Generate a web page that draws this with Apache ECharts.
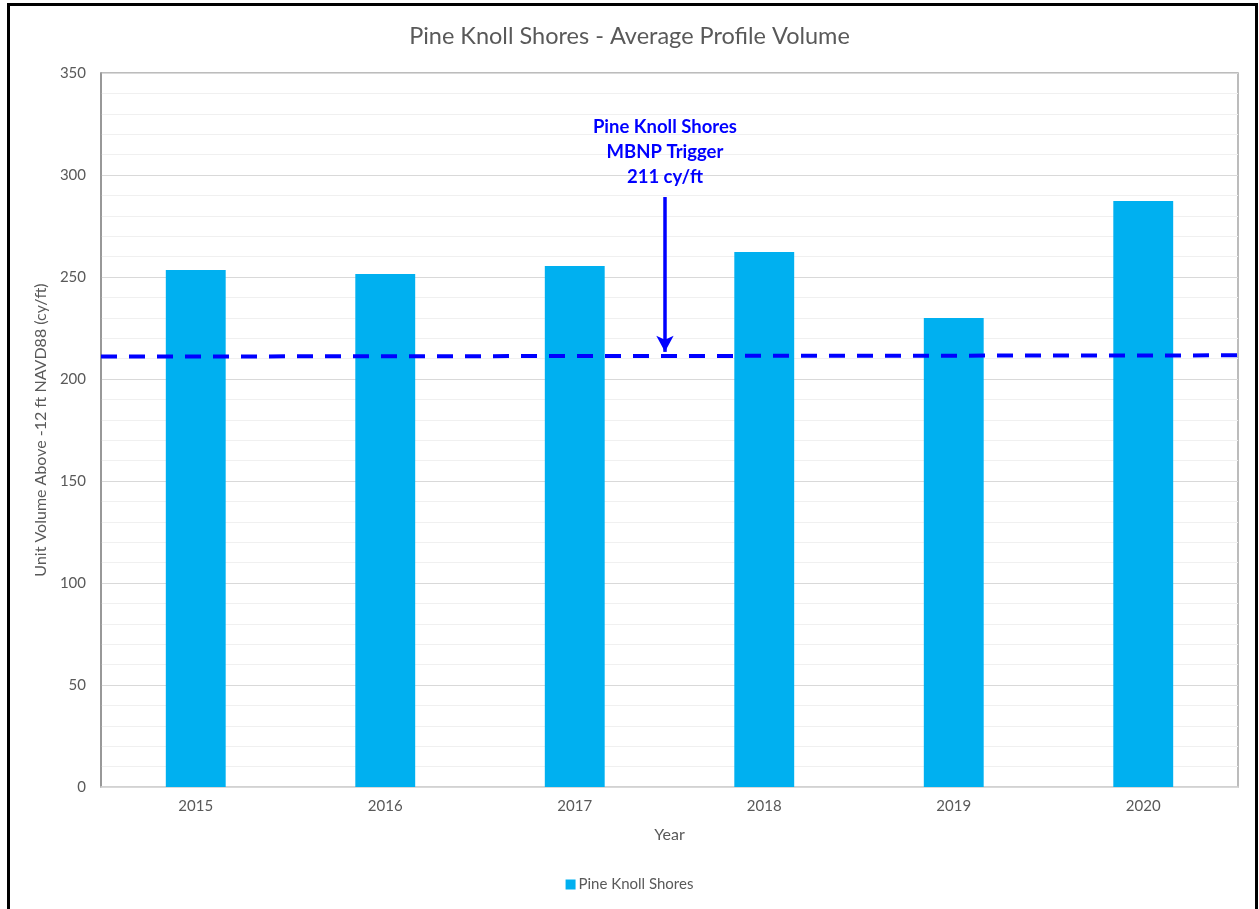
<!DOCTYPE html>
<html>
<head>
<meta charset="utf-8">
<script src="https://cdn.jsdelivr.net/npm/echarts@6/dist/echarts.min.js"></script>
<style>
  html, body { margin: 0; padding: 0; background: #fff; }
  #chart { width: 1259px; height: 909px; position: absolute; left: 0; top: 0; }
  #frame { position: absolute; left: 7px; top: 3px; width: 1245px; height: 1000px;
           border: 3px solid #000; border-bottom: none; pointer-events: none; }
</style>
</head>
<body>
<div id="chart"></div>
<div id="frame"></div>
<script>
// ---- data ----
const years = ['2015', '2016', '2017', '2018', '2019', '2020'];
const volumes = [253.4, 251.5, 255.4, 262.3, 229.9, 287.3];
const triggerLine = [[0, 211.0], [1, 211.6]];        // dashed trigger line (relative x 0..1)
const arrowStart = [0.496, 289.2];
const arrowEnd = [0.496, 213.3];
const annotationPos = [0.496, 311.5];
const annotationLines = ['Pine Knoll Shores', 'MBNP Trigger', '211 cy/ft'];
const yTicks = { min: 0, max: 350, interval: 50 };

const FONT = 'Lato, "Open Sans", sans-serif';
const TXT = '#595959';

const chart = echarts.init(document.getElementById('chart'), null, { renderer: 'canvas' });
chart.setOption({
  animation: false,
  backgroundColor: '#fff',
  textStyle: { fontFamily: FONT },
  title: {
    text: 'Pine Knoll Shores - Average Profile Volume',
    left: 'center', top: 19,
    textStyle: { fontFamily: FONT, fontSize: 23.5, fontWeight: 'normal', color: TXT }
  },
  grid: {
    left: 101, top: 73, width: 1137, height: 714,
    show: true, borderColor: '#a6a6a6', borderWidth: 1.5, backgroundColor: 'transparent'
  },
  legend: {
    bottom: 12, left: 'center',
    itemWidth: 10, itemHeight: 10, itemGap: 10,
    icon: 'rect',
    data: ['Pine Knoll Shores'],
    textStyle: { fontFamily: FONT, fontSize: 15, color: TXT, padding: [0, 0, 0, -2] }
  },
  xAxis: [
    {
      type: 'category', data: years,
      name: 'Year', nameLocation: 'middle', nameGap: 40,
      nameTextStyle: { fontFamily: FONT, fontSize: 16, color: TXT },
      axisLine: { show: true, lineStyle: { color: '#d9d9d9', width: 1.5 } },
      axisTick: { show: false },
      axisLabel: { fontFamily: FONT, fontSize: 15, color: TXT, margin: 12 },
      splitLine: { show: false }
    },
    {
      type: 'value', min: 0, max: 1, show: false, gridIndex: 0,
      splitLine: { show: false }
    }
  ],
  yAxis: {
    type: 'value', min: yTicks.min, max: yTicks.max, interval: yTicks.interval,
    name: 'Unit Volume Above -12 ft NAVD88 (cy/ft)',
    nameLocation: 'middle', nameGap: 45,
    nameTextStyle: { fontFamily: FONT, fontSize: 16, color: TXT },
    axisLine: { show: true, lineStyle: { color: '#8c8c8c', width: 1.5 } },
    axisTick: { show: false },
    axisLabel: { fontFamily: FONT, fontSize: 15, color: TXT, margin: 15 },
    splitLine: { show: true, lineStyle: { color: '#d9d9d9', width: 1.2 } },
    minorTick: { show: false, splitNumber: 5 },
    minorSplitLine: { show: true, lineStyle: { color: '#f0f0f0', width: 1.2 } }
  },
  series: [
    {
      name: 'Pine Knoll Shores', type: 'bar', data: volumes,
      barWidth: '31.6%',
      itemStyle: { color: '#00B0F0' },
      z: 2
    },
    {
      name: 'Trigger', type: 'line', xAxisIndex: 1, data: triggerLine,
      symbol: 'none', silent: true,
      lineStyle: { color: '#0000FF', width: 4, type: [16, 12] },
      z: 5,
      markLine: {
        silent: true, animation: false,
        symbol: ['none', 'arrow'], symbolSize: [13, 16],
        label: { show: false },
        lineStyle: { color: '#0000FF', width: 3.5, type: 'solid' },
        data: [[{ coord: arrowStart }, { coord: arrowEnd }]]
      },
      markPoint: {
        silent: true, symbol: 'circle', symbolSize: 0,
        label: {
          show: true, position: 'inside',
          formatter: annotationLines.join('\n'),
          fontFamily: FONT, fontSize: 18.5, fontWeight: 'bold', color: '#0000FF',
          lineHeight: 25, align: 'center', verticalAlign: 'middle'
        },
        data: [{ coord: annotationPos }]
      }
    }
  ]
});
</script>
</body>
</html>
